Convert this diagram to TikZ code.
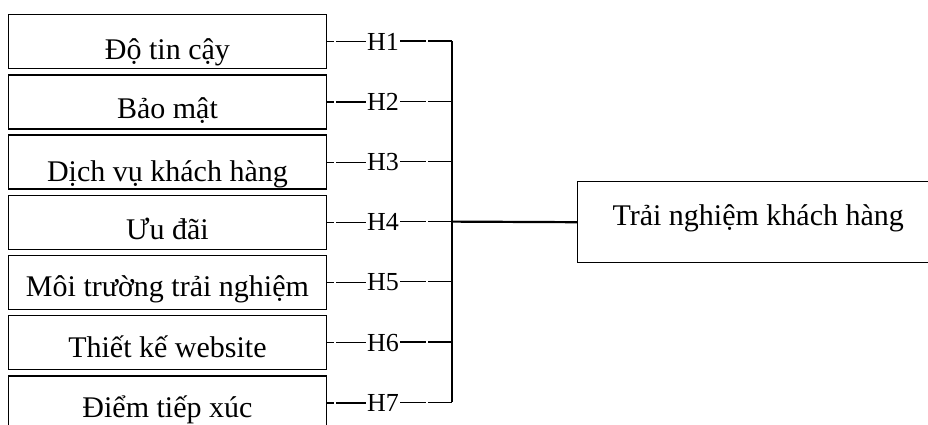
\documentclass[tikz,border=0pt]{standalone}
\usepackage{fontspec}
\setmainfont{Liberation Serif}
\begin{document}
\begin{tikzpicture}[x=1pt,y=-1pt,
  box/.style={draw, line width=1.4pt, inner sep=0pt, minimum width=318.5pt,
    anchor=north west, font=\fontsize{30}{36}\selectfont},
  bigbox/.style={draw, line width=1.4pt, inner sep=0pt, minimum width=361pt,
    text height=44pt, text depth=37pt, anchor=north west,
    font=\fontsize{30}{36}\selectfont},
  hlab/.style={inner sep=1pt, anchor=base, font=\fontsize{26}{30}\selectfont},
  conn/.style={line width=1.2pt},
  spine/.style={line width=1.4pt, line cap=square},
  trunk/.style={line width=2.2pt}]
\clip (0,0) rectangle (928,424);
\foreach \t/\bl [count=\i] in {Độ tin cậy/45, Bảo mật/44, Dịch vụ khách hàng/46, Ưu đãi/44,
    Môi trường trải nghiệm/41, Thiết kế website/42, Điểm tiếp xúc/42}{
  \pgfmathsetmacro\ytop{14+60.2*(\i-1)}
  \pgfmathsetmacro\yc{\ytop+27}
  \pgfmathsetmacro\yb{\yc+9}
  \pgfmathsetmacro\tdep{54-\bl}
  \node[box, text height=\bl pt, text depth=\tdep pt] (b\i) at (7.5,\ytop) {\t};
  \node[hlab] (h\i) at (383,\yb) {H\i};
  \coordinate (j\i) at (452,\yc);
  \draw[conn, dash pattern=on 7pt off 2pt on 80pt] (b\i.east) -- (h\i.west |- b\i.east);
  \draw[conn, dash pattern=on 26pt off 2pt on 80pt] (h\i.east |- j\i) -- (j\i);
}
\draw[spine] (j1) -- (j7);
\node[bigbox] (r) at (577,181) {Trải nghiệm khách hàng};
\draw[trunk] (j4) -- (r.west);
\end{tikzpicture}
\end{document}
